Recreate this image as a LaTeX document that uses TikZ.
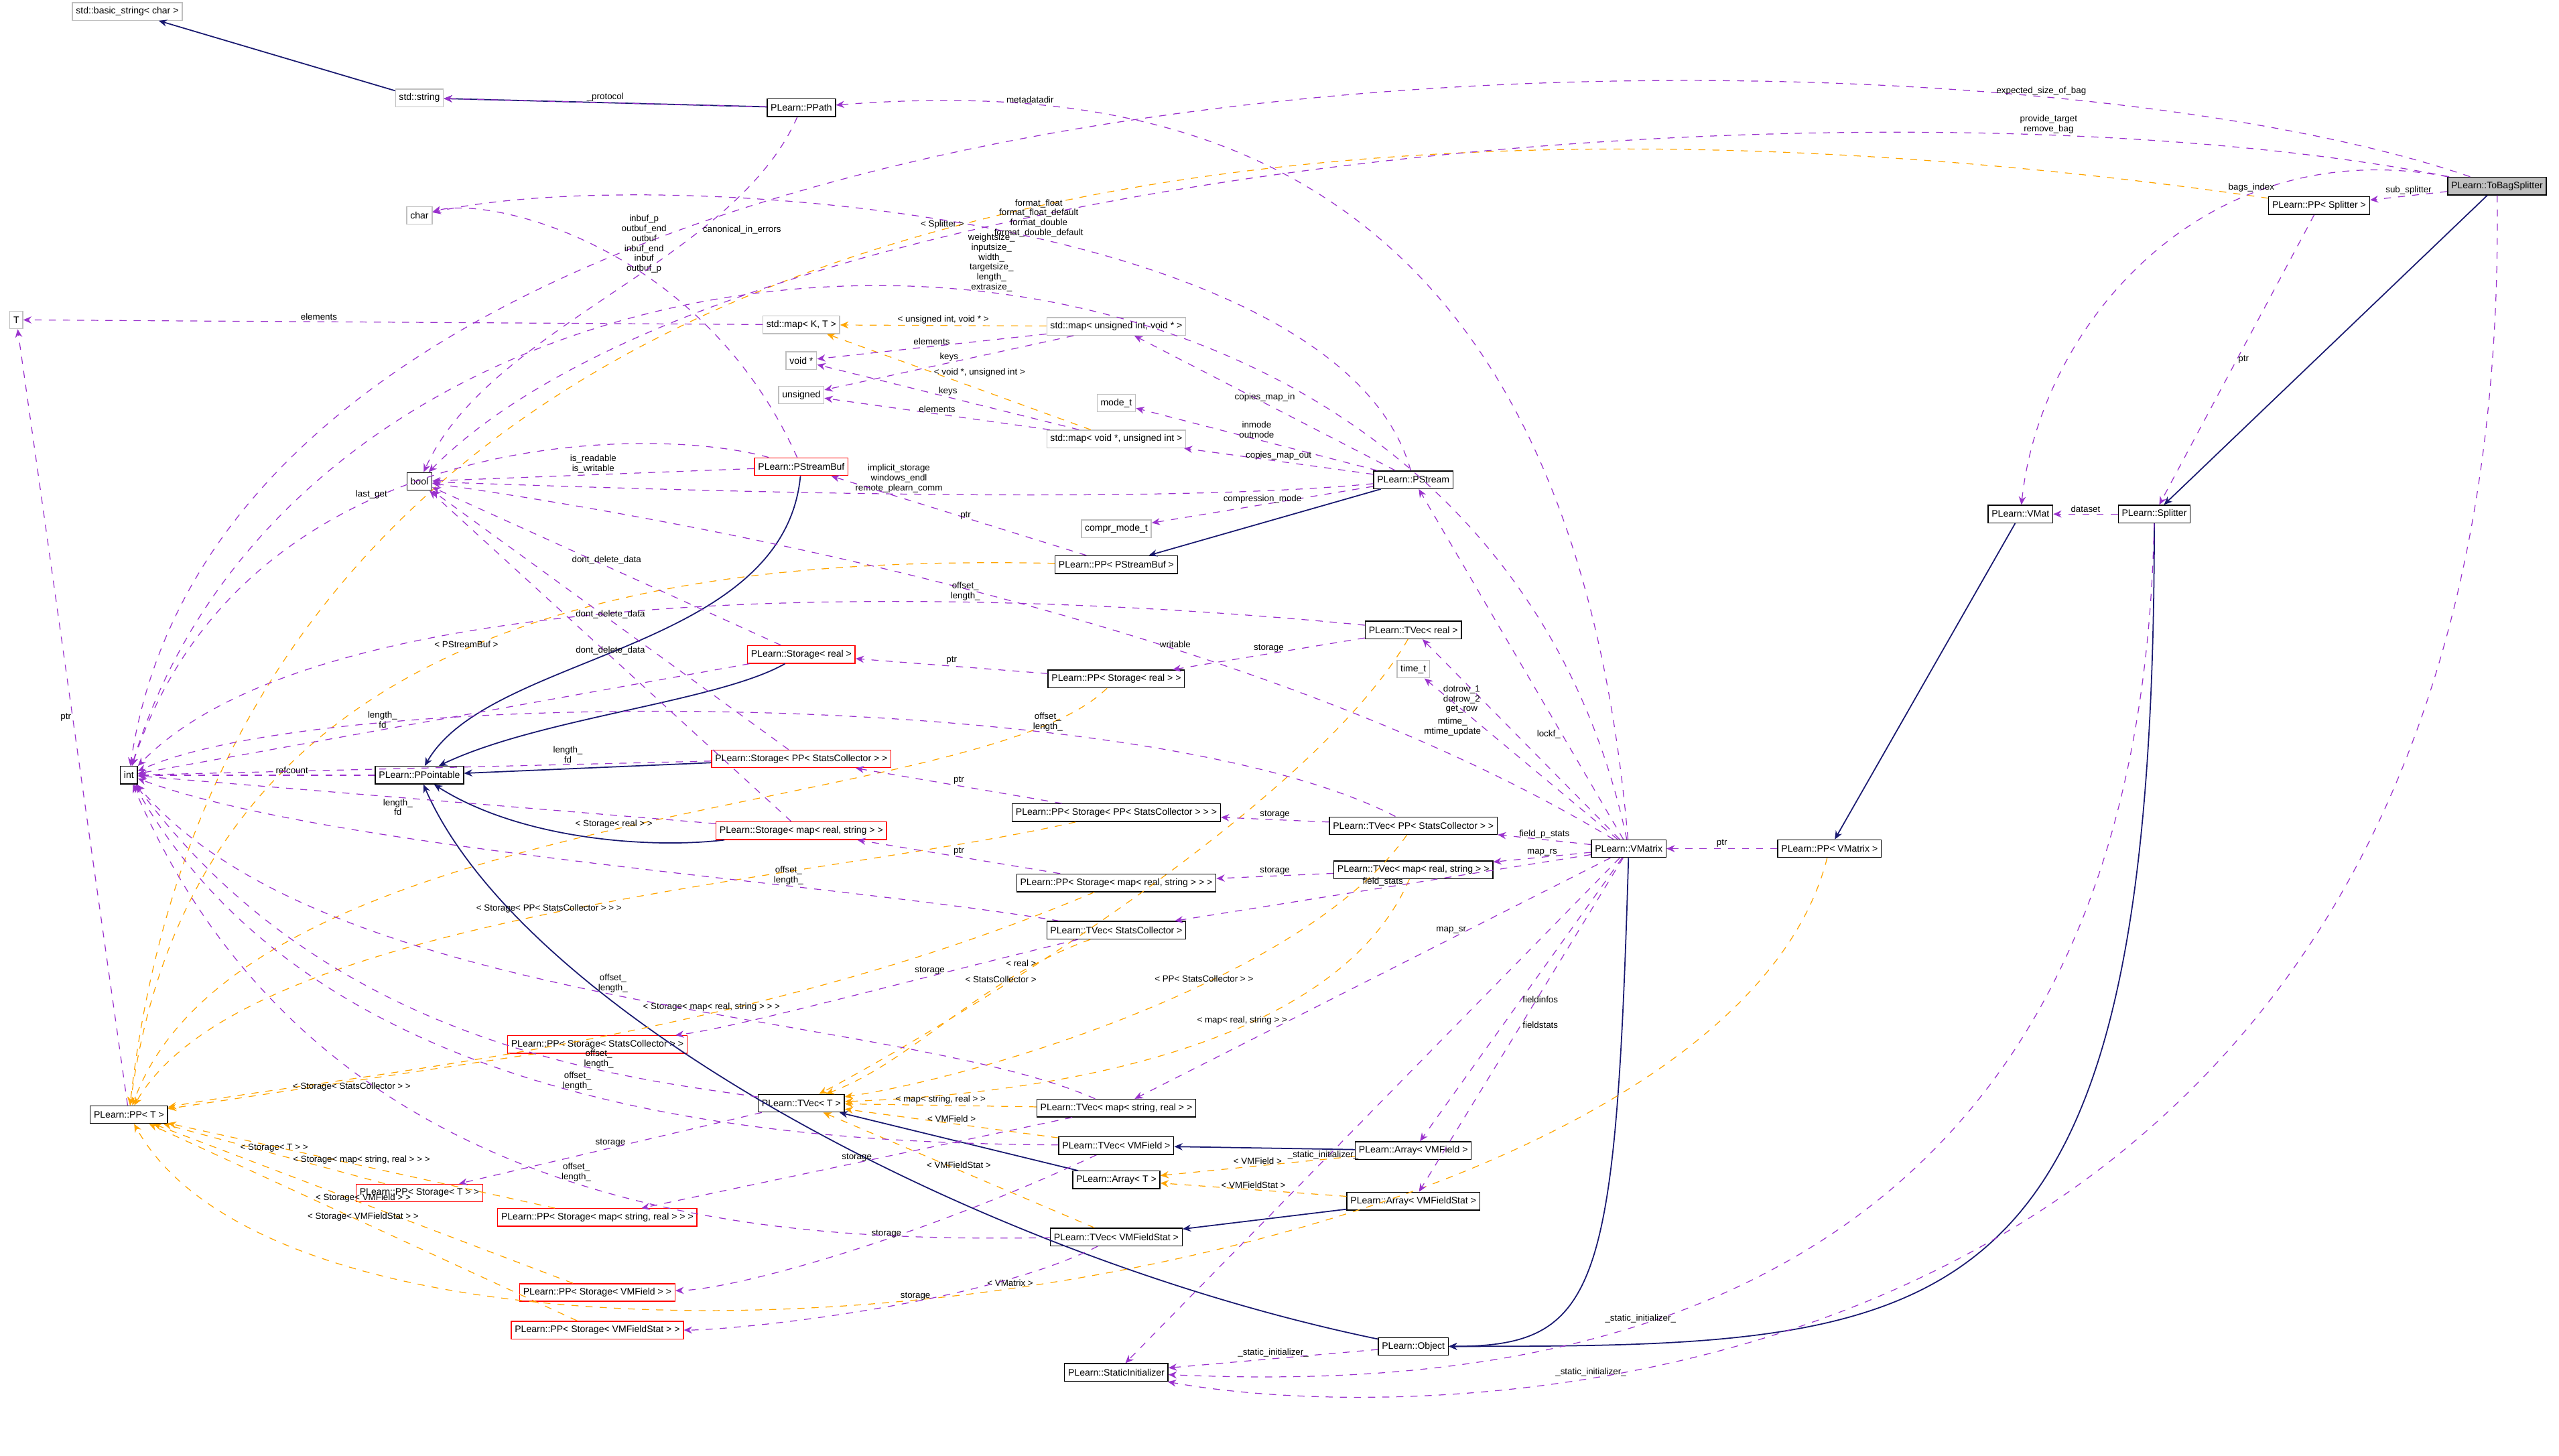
\documentclass[tikz,border=0pt]{standalone}
\usepackage{fontspec}
\setmainfont{Liberation Sans}
\usetikzlibrary{arrows.meta,positioning}
\definecolor{memcol}{HTML}{9A32CD}
\definecolor{inhcol}{HTML}{191970}
\definecolor{tplcol}{HTML}{FFA500}
\definecolor{extcol}{HTML}{BFBFBF}
\tikzset{
  cls/.style={draw=black, line width=0.4pt, font=\fontsize{4}{4.5}\selectfont, inner sep=1.5pt, minimum height=7.5pt},
  ext/.style={cls, draw=extcol},
  bad/.style={cls, draw=red},
  root/.style={cls, fill=extcol},
  mem/.style={draw=memcol, dashed, line width=0.35pt, -{Stealth[length=3.5pt,width=3pt]}},
  inh/.style={draw=inhcol, line width=0.5pt, -{Stealth[length=3.5pt,width=3pt]}},
  tpl/.style={draw=tplcol, dashed, line width=0.35pt, -{Stealth[length=3.5pt,width=3pt]}},
  lbl/.style={font=\fontsize{3.8}{4.2}\selectfont, align=center, inner sep=0.5pt, midway}
}
\begin{document}
\begin{tikzpicture}[x=0.024356cm, y=-0.024356cm]
\useasboundingbox (0,0) rectangle (1568,892);
% class boxes
\node[ext] (bstr) at (78,7) {std::basic\_string< char >};
\node[ext] (str) at (257,60) {std::string};
\node[cls] (ppath) at (491,66) {PLearn::PPath};
\node[ext] (char) at (257,132) {char};
\node[ext] (T) at (10,196) {T};
\node[ext] (mapkt) at (491,199) {std::map< K, T >};
\node[ext] (mapuv) at (684,200) {std::map< unsigned int, void * >};
\node[ext] (voidp) at (491,221) {void *};
\node[ext] (uns) at (491,242) {unsigned};
\node[ext] (mode) at (684,247) {mode\_t};
\node[ext] (mapvu) at (684,269) {std::map< void *, unsigned int >};
\node[bad] (psbuf) at (491,286) {PLearn::PStreamBuf};
\node[cls] (bool) at (257,295) {bool};
\node[cls] (pstream) at (866,294) {PLearn::PStream};
\node[ext] (compr) at (684,324) {compr\_mode\_t};
\node[cls] (pppsbuf) at (684,346) {PLearn::PP< PStreamBuf >};
\node[cls] (tvreal) at (866,386) {PLearn::TVec< real >};
\node[bad] (streal) at (491,401) {PLearn::Storage< real >};
\node[cls] (ppstreal) at (684,416) {PLearn::PP< Storage< real > >};
\node[ext] (time) at (866,410) {time\_t};
\node[cls] (int) at (79,475) {int};
\node[cls] (ppoint) at (257,475) {PLearn::PPointable};
\node[bad] (stppsc) at (491,465) {PLearn::Storage< PP< StatsCollector > >};
\node[cls] (ppstppsc) at (684,498) {PLearn::PP< Storage< PP< StatsCollector > > >};
\node[cls] (tvppsc) at (866,506) {PLearn::TVec< PP< StatsCollector > >};
\node[bad] (stmrs) at (491,509) {PLearn::Storage< map< real, string > >};
\node[cls] (vmatrix) at (998,520) {PLearn::VMatrix};
\node[cls] (ppvm) at (1121,520) {PLearn::PP< VMatrix >};
\node[cls] (tvmrs) at (866,533) {PLearn::TVec< map< real, string > >};
\node[cls] (ppstmrs) at (684,541) {PLearn::PP< Storage< map< real, string > > >};
\node[cls] (tvsc) at (684,570) {PLearn::TVec< StatsCollector >};
\node[bad] (ppstsc) at (366,640) {PLearn::PP< Storage< StatsCollector > >};
\node[cls] (ppT) at (79,683) {PLearn::PP< T >};
\node[cls] (tvT) at (491,676) {PLearn::TVec< T >};
\node[cls] (tvmsr) at (684,679) {PLearn::TVec< map< string, real > >};
\node[cls] (tvvmf) at (684,702) {PLearn::TVec< VMField >};
\node[cls] (arvmf) at (866,705) {PLearn::Array< VMField >};
\node[cls] (arT) at (684,723) {PLearn::Array< T >};
\node[bad] (ppstT) at (257,731) {PLearn::PP< Storage< T > >};
\node[cls] (arvmfs) at (866,736) {PLearn::Array< VMFieldStat >};
\node[bad] (ppstmsr) at (366,746) {PLearn::PP< Storage< map< string, real > > >};
\node[cls] (tvvmfs) at (684,758) {PLearn::TVec< VMFieldStat >};
\node[bad] (ppstvmf) at (366,792) {PLearn::PP< Storage< VMField > >};
\node[bad] (ppstvmfs) at (366,815) {PLearn::PP< Storage< VMFieldStat > >};
\node[cls] (object) at (866,825) {PLearn::Object};
\node[cls] (statinit) at (684,841) {PLearn::StaticInitializer};
\node[cls] (vmat) at (1238,315) {PLearn::VMat};
\node[cls] (split) at (1320,315) {PLearn::Splitter};
\node[cls] (ppsplit) at (1421,126) {PLearn::PP< Splitter >};
\node[root] (tobag) at (1530,114) {PLearn::ToBagSplitter};
% inheritance
\draw[inh] (str) -- (bstr);
\draw[inh] (ppath) -- (str);
\draw[inh] (tobag) -- (split);
\draw[inh] (vmat) -- (ppvm);
\draw[inh] (pstream) -- (pppsbuf);
\draw[inh] (psbuf) .. controls (480,400) and (300,400) .. (ppoint);
\draw[inh] (streal) .. controls (440,430) and (330,440) .. (ppoint);
\draw[inh] (stppsc) -- (ppoint);
\draw[inh] (stmrs) .. controls (400,520) and (320,515) .. (ppoint);
\draw[inh] (object) .. controls (600,770) and (320,620) .. (ppoint);
\draw[inh] (vmatrix) .. controls (990,790) and (980,825) .. (object);
\draw[inh] (split) .. controls (1320,820) and (1200,825) .. (object);
\draw[inh] (arvmf) -- (tvvmf);
\draw[inh] (arvmfs) -- (tvvmfs);
\draw[inh] (arT) -- (tvT);
% template instances
\draw[tpl] (mapuv) -- node[lbl, above]{< unsigned int, void * >} (mapkt);
\draw[tpl] (mapvu) -- node[lbl, right, pos=0.6]{< void *, unsigned int >} (mapkt);
\draw[tpl] (ppsplit) .. controls (900,50) and (150,60) .. node[lbl, above]{< Splitter >} (ppT);
\draw[tpl] (ppvm) .. controls (1050,800) and (200,900) .. node[lbl, above]{< VMatrix >} (ppT);
\draw[tpl] (pppsbuf) .. controls (400,340) and (120,380) .. node[lbl, above]{< PStreamBuf >} (ppT);
\draw[tpl] (ppstreal) .. controls (600,500) and (150,490) .. node[lbl, above]{< Storage< real > >} (ppT);
\draw[tpl] (ppstppsc) .. controls (500,540) and (150,560) .. node[lbl, above]{< Storage< PP< StatsCollector > > >} (ppT);
\draw[tpl] (ppstmrs) .. controls (450,640) and (200,660) .. node[lbl, above, pos=0.35]{< Storage< map< real, string > > >} (ppT);
\draw[tpl] (ppstsc) -- node[lbl, below]{< Storage< StatsCollector > >} (ppT);
\draw[tpl] (ppstT) -- node[lbl, above]{< Storage< T > >} (ppT);
\draw[tpl] (ppstmsr) -- node[lbl, above]{< Storage< map< string, real > > >} (ppT);
\draw[tpl] (ppstvmf) -- node[lbl, above]{< Storage< VMField > >} (ppT);
\draw[tpl] (ppstvmfs) -- node[lbl, above]{< Storage< VMFieldStat > >} (ppT);
\draw[tpl] (tvreal) .. controls (800,500) and (560,640) .. node[lbl, left, pos=0.6]{< real >} (tvT);
\draw[tpl] (tvppsc) .. controls (800,600) and (600,660) .. node[lbl, pos=0.4, above]{< PP< StatsCollector > >} (tvT);
\draw[tpl] (tvmrs) .. controls (820,640) and (650,670) .. node[lbl, pos=0.4, above]{< map< real, string > >} (tvT);
\draw[tpl] (tvsc) .. controls (600,600) and (560,650) .. node[lbl, above, pos=0.3]{< StatsCollector >} (tvT);
\draw[tpl] (tvmsr) -- node[lbl, above]{< map< string, real > >} (tvT);
\draw[tpl] (tvvmf) -- node[lbl, above]{< VMField >} (tvT);
\draw[tpl] (tvvmfs) -- node[lbl, above]{< VMFieldStat >} (tvT);
\draw[tpl] (arvmf) -- node[lbl, above]{< VMField >} (arT);
\draw[tpl] (arvmfs) -- node[lbl, above]{< VMFieldStat >} (arT);
% members
\draw[mem] (tobag) .. controls (1200,0) and (150,0) .. node[lbl, above, pos=0.2]{expected\_size\_of\_bag} (int);
\draw[mem] (tobag) .. controls (1150,40) and (450,100) .. node[lbl, above, pos=0.2]{provide\_target\\remove\_bag} (bool);
\draw[mem] (tobag) .. controls (1350,80) and (1250,200) .. node[lbl, pos=0.3, above]{bags\_index} (vmat);
\draw[mem] (tobag) -- node[lbl, above]{sub\_splitter} (ppsplit);
\draw[mem] (tobag) .. controls (1540,860) and (900,880) .. node[lbl, above, pos=0.7]{\_static\_initializer\_} (statinit);
\draw[mem] (ppsplit) -- node[lbl, right]{ptr} (split);
\draw[mem] (split) -- node[lbl, above]{dataset} (vmat);
\draw[mem] (split) .. controls (1310,840) and (900,850) .. node[lbl, above, pos=0.6]{\_static\_initializer\_} (statinit);
\draw[mem] (ppvm) -- node[lbl, above]{ptr} (vmatrix);
\draw[mem] (vmatrix) .. controls (960,80) and (700,50) .. node[lbl, above, pos=0.8]{metadatadir} (ppath);
\draw[mem] (vmatrix) .. controls (900,60) and (200,80) .. node[lbl, above, pos=0.45]{weightsize\_\\inputsize\_\\width\_\\targetsize\_\\length\_\\extrasize\_} (int);
\draw[mem] (vmatrix) -- node[lbl, left, pos=0.3]{lockf\_} (pstream);
\draw[mem] (vmatrix) -- node[lbl, left, pos=0.7]{dotrow\_1\\dotrow\_2\\get\_row} (tvreal);
\draw[mem] (vmatrix) -- node[lbl, left, pos=0.7]{mtime\_\\mtime\_update} (time);
\draw[mem] (vmatrix) -- node[lbl, above]{field\_p\_stats} (tvppsc);
\draw[mem] (vmatrix) -- node[lbl, above]{map\_rs} (tvmrs);
\draw[mem] (vmatrix) -- node[lbl, above]{field\_stats} (tvsc);
\draw[mem] (vmatrix) -- node[lbl, left, pos=0.3]{map\_sr} (tvmsr);
\draw[mem] (vmatrix) -- node[lbl, right]{fieldinfos} (arvmf);
\draw[mem] (vmatrix) -- node[lbl, right]{fieldstats} (arvmfs);
\draw[mem] (vmatrix) -- node[lbl, above, pos=0.6]{\_static\_initializer\_} (statinit);
\draw[mem] (vmatrix) .. controls (800,400) and (500,330) .. node[lbl, above, pos=0.4]{writable} (bool);
\draw[mem] (object) -- node[lbl, above]{\_static\_initializer\_} (statinit);
\draw[mem] (pstream) .. controls (820,130) and (400,100) .. node[lbl, above, pos=0.45]{format\_float\\format\_float\_default\\format\_double\\format\_double\_default} (char);
\draw[mem] (pstream) -- node[lbl, above]{copies\_map\_in} (mapuv);
\draw[mem] (pstream) -- node[lbl, above]{inmode\\outmode} (mode);
\draw[mem] (pstream) -- node[lbl, above]{copies\_map\_out} (mapvu);
\draw[mem] (pstream) .. controls (700,310) and (400,300) .. node[lbl, above, pos=0.5]{implicit\_storage\\windows\_endl\\remote\_plearn\_comm} (bool);
\draw[mem] (pstream) -- node[lbl, above]{compression\_mode} (compr);
\draw[mem] (psbuf) .. controls (430,150) and (300,120) .. node[lbl, above, pos=0.4]{inbuf\_p\\outbuf\_end\\outbuf\\inbuf\_end\\inbuf\\outbuf\_p} (char);
\draw[mem] (psbuf) -- node[lbl, above]{is\_readable\\is\_writable} (bool);
\draw[mem] (psbuf) .. controls (400,260) and (150,260) .. node[lbl, above, pos=0.6]{last\_get} (int);
\draw[mem] (ppath) .. controls (450,160) and (300,200) .. node[lbl, right, pos=0.3]{canonical\_in\_errors} (bool);
\draw[mem] (ppath) -- node[lbl, above]{\_protocol} (str);
\draw[mem] (mapkt) -- node[lbl, above, pos=0.6]{elements} (T);
\draw[mem] (mapuv) -- node[lbl, above]{elements} (voidp);
\draw[mem] (mapuv) -- node[lbl, above]{keys} (uns);
\draw[mem] (mapvu) -- node[lbl, above]{keys} (voidp);
\draw[mem] (mapvu) -- node[lbl, above]{elements} (uns);
\draw[mem] (pppsbuf) -- node[lbl, right]{ptr} (psbuf);
\draw[mem] (ppT) -- node[lbl, left]{ptr} (T);
\draw[mem] (ppoint) -- node[lbl, above, pos=0.35]{refcount} (int);
\draw[mem] (streal) -- node[lbl, above, pos=0.6]{length\_\\fd} (int);
\draw[mem] (streal) -- node[lbl, above]{dont\_delete\_data} (bool);
\draw[mem] (ppstreal) -- node[lbl, above]{ptr} (streal);
\draw[mem] (tvreal) -- node[lbl, above]{storage} (ppstreal);
\draw[mem] (tvreal) .. controls (600,360) and (200,350) .. node[lbl, above, pos=0.3]{offset\_\\length\_} (int);
\draw[mem] (stppsc) -- node[lbl, above, pos=0.25]{length\_\\fd} (int);
\draw[mem] (stppsc) -- node[lbl, above, pos=0.5]{dont\_delete\_data} (bool);
\draw[mem] (ppstppsc) -- node[lbl, above]{ptr} (stppsc);
\draw[mem] (tvppsc) -- node[lbl, above]{storage} (ppstppsc);
\draw[mem] (tvppsc) .. controls (700,420) and (200,420) .. node[lbl, above, pos=0.3]{offset\_\\length\_} (int);
\draw[mem] (stmrs) -- node[lbl, below, pos=0.55]{length\_\\fd} (int);
\draw[mem] (stmrs) -- node[lbl, above, pos=0.5]{dont\_delete\_data} (bool);
\draw[mem] (ppstmrs) -- node[lbl, above]{ptr} (stmrs);
\draw[mem] (tvmrs) -- node[lbl, above]{storage} (ppstmrs);
\draw[mem] (tvsc) .. controls (500,540) and (200,520) .. node[lbl, above, pos=0.3]{offset\_\\length\_} (int);
\draw[mem] (tvsc) .. controls (560,600) and (450,630) .. node[lbl, above, pos=0.3]{storage} (ppstsc);
\draw[mem] (tvT) .. controls (380,660) and (200,640) .. node[lbl, above, pos=0.3]{offset\_\\length\_} (int);
\draw[mem] (tvT) -- node[lbl, above]{storage} (ppstT);
\draw[mem] (tvmsr) .. controls (550,620) and (200,620) .. node[lbl, above, pos=0.5]{offset\_\\length\_} (int);
\draw[mem] (tvmsr) -- node[lbl, above]{storage} (ppstmsr);
\draw[mem] (tvvmf) .. controls (500,700) and (200,690) .. node[lbl, above, pos=0.5]{offset\_\\length\_} (int);
\draw[mem] (tvvmf) .. controls (560,760) and (450,790) .. node[lbl, above, pos=0.4]{storage} (ppstvmf);
\draw[mem] (tvvmfs) .. controls (500,760) and (200,760) .. node[lbl, above, pos=0.5]{offset\_\\length\_} (int);
\draw[mem] (tvvmfs) .. controls (600,800) and (450,815) .. node[lbl, above, pos=0.4]{storage} (ppstvmfs);
\end{tikzpicture}
\end{document}
